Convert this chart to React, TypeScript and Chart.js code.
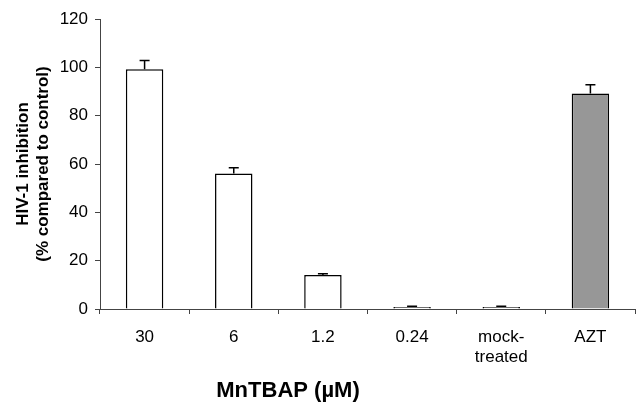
import React, { useEffect, useRef } from "react";
import { Chart, registerables } from "chart.js";

Chart.register(...registerables);

const categories: (string | string[])[] = ["30", "6", "1.2", "0.24", ["mock-", "treated"], "AZT"];
const inhibition = [99.2, 56.1, 14.1, 0.8, 0.8, 89.2];
const errors = [3.6, 2.4, 0.5, 0.3, 0.3, 3.6];
const fillColors = ["#ffffff", "#ffffff", "#ffffff", "#ffffff", "#ffffff", "#979797"];
const yTicks = [0, 20, 40, 60, 80, 100, 120];
const yTitle = ["HIV-1 inhibition", "(% compared to control)"];
const xTitle = "MnTBAP (\u00b5M)";

const FONT = "'Liberation Sans', Arial, Helvetica, sans-serif";

const errorBarPlugin = {
  id: "errorBars",
  afterDatasetsDraw(chart: any) {
    const ctx = chart.ctx;
    const meta = chart.getDatasetMeta(0);
    const y = chart.scales.y;
    ctx.save();
    ctx.strokeStyle = "#000";
    ctx.lineWidth = 1.5;
    meta.data.forEach((bar: any, i: number) => {
      const top = y.getPixelForValue(inhibition[i]);
      const tip = y.getPixelForValue(inhibition[i] + errors[i]);
      const cx = bar.x;
      ctx.beginPath();
      ctx.moveTo(cx, top);
      ctx.lineTo(cx, tip);
      ctx.moveTo(cx - 5, tip);
      ctx.lineTo(cx + 5, tip);
      ctx.stroke();
    });
    ctx.restore();
  },
};

const xTitlePlugin = {
  id: "xTitle",
  afterDraw(chart: any) {
    const ctx = chart.ctx;
    const area = chart.chartArea;
    ctx.save();
    ctx.font = `bold 22px ${FONT}`;
    ctx.fillStyle = "#000";
    ctx.textAlign = "center";
    ctx.textBaseline = "middle";
    ctx.fillText(xTitle, area.left + 188, chart.height - 20);
    ctx.restore();
  },
};

export default function App() {
  const ref = useRef<HTMLCanvasElement>(null);
  useEffect(() => {
    if (!ref.current) return;
    const chart = new Chart(ref.current, {
      type: "bar",
      data: {
        labels: categories,
        datasets: [
          {
            data: inhibition,
            backgroundColor: fillColors,
            borderColor: "#000",
            borderWidth: 1.5,
            categoryPercentage: 1,
            barPercentage: 0.42,
          },
        ],
      },
      options: {
        responsive: false,
        animation: false,
        layout: { padding: { left: 0, top: 19, right: 1, bottom: 0 } },
        plugins: { legend: { display: false }, tooltip: { enabled: false } },
        scales: {
          x: {
            afterFit: (s: any) => {
              s.height = 102;
            },
            grid: {
              offset: true,
              drawOnChartArea: false,
              tickLength: 5,
              color: "#444",
            },
            border: { display: true, color: "#444", width: 1 },
            ticks: {
              color: "#000",
              padding: 13,
              font: { family: FONT, size: 17 },
            },
          },
          y: {
            min: 0,
            max: 120,
            afterFit: (s: any) => {
              s.width = 100;
            },
            afterBuildTicks: (s: any) => {
              s.ticks = yTicks.map((v) => ({ value: v }));
            },
            grid: { drawOnChartArea: false, tickLength: 5, color: "#444" },
            border: { display: true, color: "#444", width: 1 },
            ticks: {
              color: "#000",
              padding: 7,
              font: { family: FONT, size: 17 },
            },
            title: {
              display: true,
              text: yTitle,
              color: "#000",
              padding: { top: 13, bottom: 0 },
              font: { family: FONT, size: 17, weight: "bold", lineHeight: 1.2 },
            },
          },
        },
      },
      plugins: [errorBarPlugin, xTitlePlugin],
    });
    return () => chart.destroy();
  }, []);
  return (
    <div style={{ position: "absolute", left: 0, top: 0, width: 636, height: 411, background: "#fff" }}>
      <canvas ref={ref} width={636} height={411} />
    </div>
  );
}
